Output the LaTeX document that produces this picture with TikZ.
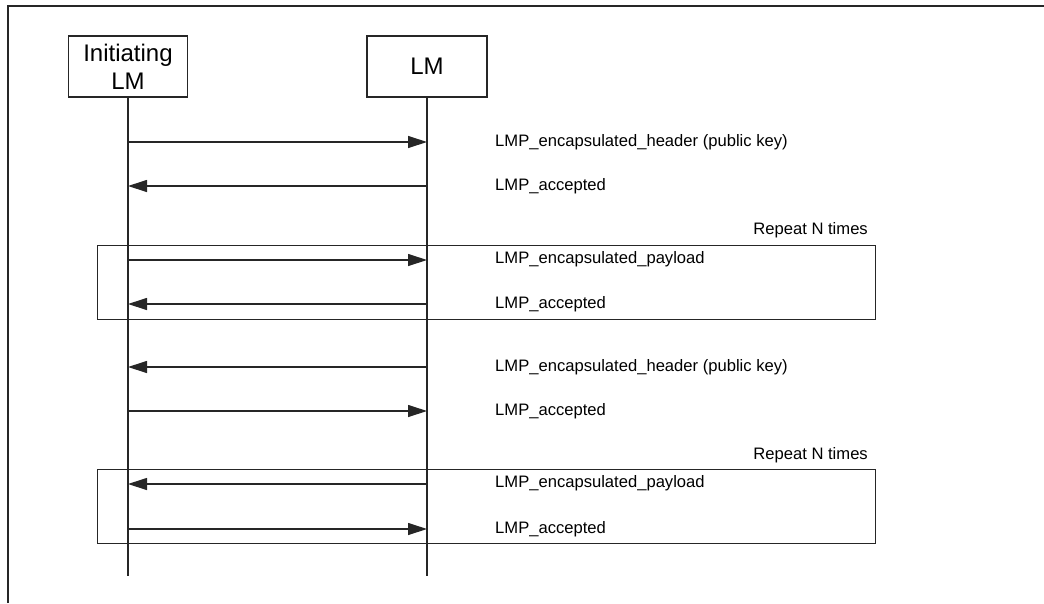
\documentclass[tikz,border=0pt]{standalone}
\usepackage{fontspec}
\setmainfont{Liberation Sans}
\usepackage{tikz}
\usetikzlibrary{arrows.meta,positioning}
\tikzset{
  headbox/.style={draw=black!85, line width=1.2pt, align=center, inner sep=0pt, minimum width=119pt, minimum height=61pt, font=\fontsize{24}{28}\selectfont},
  lifeline/.style={draw=black!85, line width=1.2pt},
  msg/.style={-{Triangle[length=19pt, width=12pt]}, draw=black!85, line width=1.2pt},
  msglabel/.style={anchor=west, inner sep=0pt, font=\fontsize{16.6}{19}\selectfont},
  loopbox/.style={draw=black!85, line width=1.2pt, inner sep=0pt, minimum width=778pt, minimum height=74pt, anchor=north west},
  frameline/.style={draw=black!85, line width=2pt}
}

\begin{document}
\begin{tikzpicture}[x=1pt, y=-1pt]
  \useasboundingbox (0,0) rectangle (1044,603);
  \draw[frameline] (8,603) -- (8,6) -- (1044,6);

  % lifeline heads
  \node[headbox] (ilm) at (128,66.5) {Initiating\\LM};
  \node[headbox, minimum width=120pt] (lm) at (427,66.5) {LM};
  \coordinate (ilmend) at (128,576);
  \coordinate (lmend) at (427,576);
  \draw[lifeline] (ilm) -- (ilmend);
  \draw[lifeline] (lm) -- (lmend);

  % message levels on both lifelines
  \foreach \y [count=\i] in {142,186,260,304,367,411,484,529} {
    \coordinate (i\i) at (128,\y);
    \coordinate (l\i) at (427,\y);
  }

  % repeat boxes
  \node[loopbox] (rep1) at (97,245) {};
  \node[loopbox] (rep2) at (97,469) {};
  \node[msglabel, anchor=east] (rep1lbl) at (868,230) {Repeat N times};
  \node[msglabel, anchor=east] (rep2lbl) at (868,455) {Repeat N times};

  % messages
  \draw[msg] (i1) -- (l1);
  \draw[msg] (l2) -- (i2);
  \draw[msg] (i3) -- (l3);
  \draw[msg] (l4) -- (i4);
  \draw[msg] (l5) -- (i5);
  \draw[msg] (i6) -- (l6);
  \draw[msg] (l7) -- (i7);
  \draw[msg] (i8) -- (l8);

  \node[msglabel] (m1) at (495,142) {LMP\_encapsulated\_header (public key)};
  \node[msglabel] (m2) at (495,186) {LMP\_accepted};
  \node[msglabel] (m3) at (495,259) {LMP\_encapsulated\_payload};
  \node[msglabel] (m4) at (495,304) {LMP\_accepted};
  \node[msglabel] (m5) at (495,367) {LMP\_encapsulated\_header (public key)};
  \node[msglabel] (m6) at (495,411) {LMP\_accepted};
  \node[msglabel] (m7) at (495,483) {LMP\_encapsulated\_payload};
  \node[msglabel] (m8) at (495,529) {LMP\_accepted};
\end{tikzpicture}
\end{document}
